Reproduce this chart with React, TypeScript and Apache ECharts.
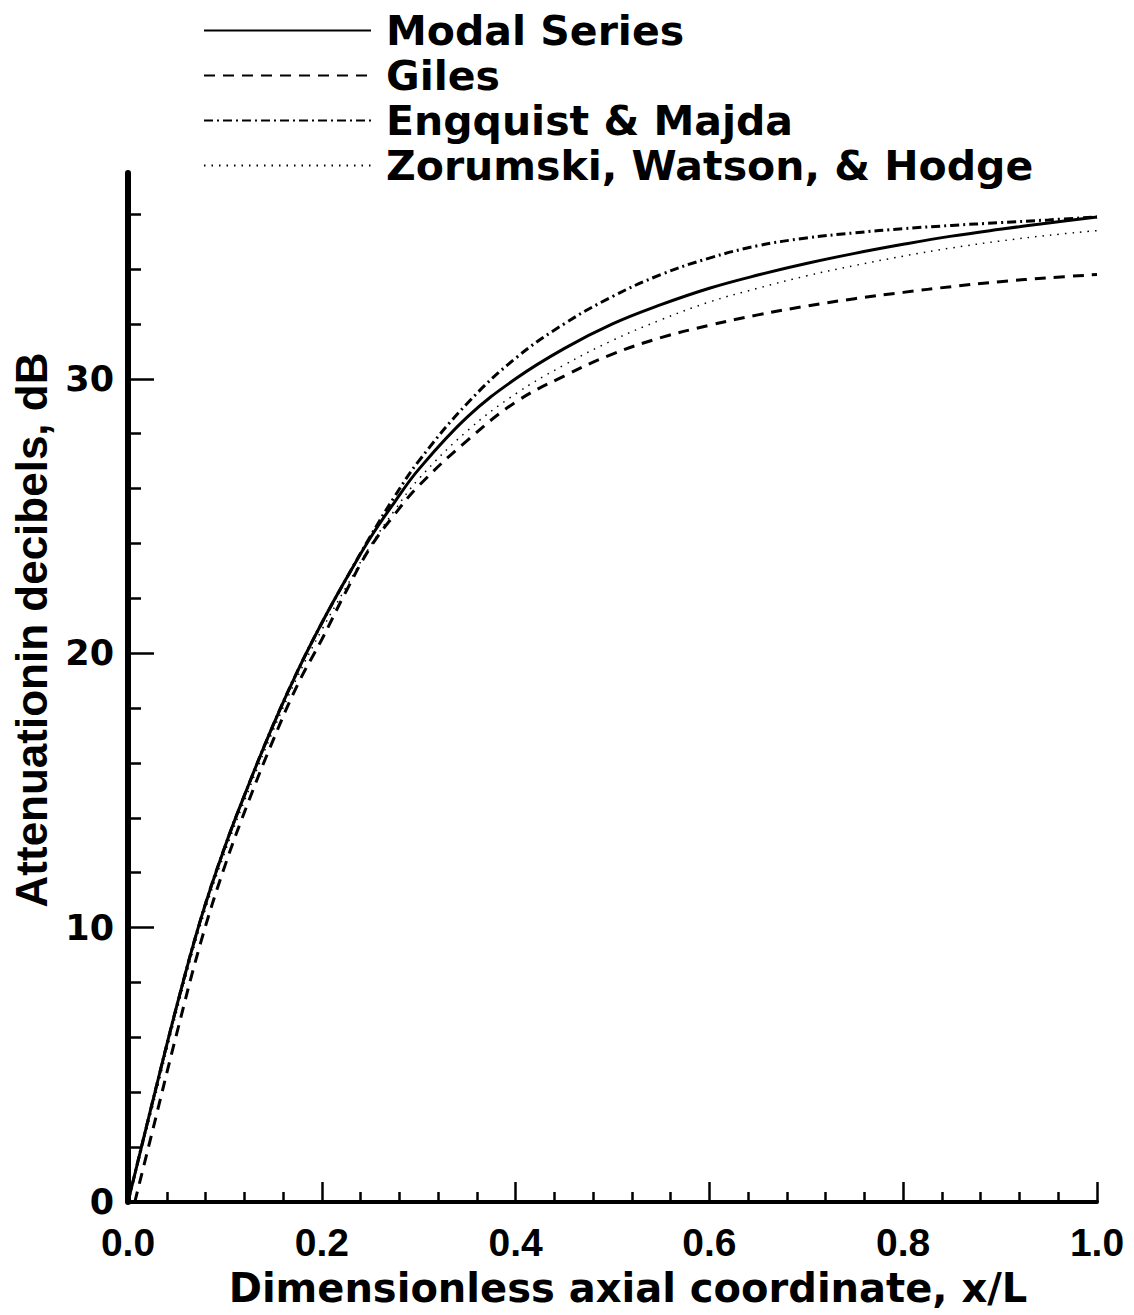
import React, { useEffect, useRef } from "react";
import * as echarts from "echarts";

const xCoords = [0, 0.025, 0.05, 0.075, 0.1, 0.125, 0.15, 0.175, 0.2, 0.225, 0.25, 0.275, 0.3, 0.35, 0.4, 0.45, 0.5, 0.55, 0.6, 0.65, 0.7, 0.75, 0.8, 0.85, 0.9, 0.95, 1.0];
const gilesX = [0.007, 0.025, 0.05, 0.075, 0.1, 0.125, 0.15, 0.175, 0.2, 0.225, 0.25, 0.275, 0.3, 0.35, 0.4, 0.45, 0.5, 0.55, 0.6, 0.65, 0.7, 0.75, 0.8, 0.85, 0.9, 0.95, 1.0];

const modalSeries = [0, 3.6, 7.1, 10.3, 12.95, 15.25, 17.4, 19.35, 21.1, 22.7, 24.2, 25.5, 26.7, 28.6, 30.0, 31.1, 32.0, 32.7, 33.3, 33.78, 34.2, 34.57, 34.9, 35.2, 35.45, 35.68, 35.9];
const giles = [0, 2.55, 6.1, 9.45, 12.25, 14.65, 16.85, 18.85, 20.5, 22.25, 23.85, 25.05, 26.1, 27.75, 29.15, 30.1, 30.9, 31.5, 31.95, 32.33, 32.65, 32.92, 33.15, 33.36, 33.54, 33.68, 33.8];
const engquistMajda = [0, 3.6, 7.1, 10.3, 12.95, 15.25, 17.4, 19.35, 21.1, 22.7, 24.25, 25.7, 27.0, 29.1, 30.75, 32.0, 33.0, 33.8, 34.4, 34.85, 35.13, 35.32, 35.47, 35.59, 35.69, 35.79, 35.9];
const zorumski = [0, 3.4, 6.9, 10.1, 12.75, 15.05, 17.2, 19.15, 20.85, 22.4, 23.9, 25.2, 26.35, 28.1, 29.45, 30.5, 31.4, 32.15, 32.8, 33.3, 33.75, 34.13, 34.47, 34.77, 35.02, 35.23, 35.4];

const seriesNames = ["Modal Series", "Giles", "Engquist & Majda", "Zorumski, Watson, & Hodge"];
const yMajorTicks = [0, 10, 20, 30];
const yMinorTicks = [2, 4, 6, 8, 12, 14, 16, 18, 22, 24, 26, 28, 32, 34, 36];

const xTitle = "Dimensionless axial coordinate, x/L";
const yTitle = "Attenuationin decibels, dB";

const pairs = (xs: number[], ys: number[]) => xs.map((x, i) => [x, ys[i]]);

export default function App() {
  const ref = useRef<HTMLDivElement>(null);
  useEffect(() => {
    document.body.style.margin = "0";
    const chart = echarts.init(ref.current!, null, { renderer: "svg" });
    const lineBase = {
      type: "line" as const,
      smooth: 0.4,
      symbol: "none",
      showSymbol: false,
      silent: true,
      itemStyle: { color: "#000" },
    };
    chart.setOption({
      animation: false,
      backgroundColor: "#ffffff",
      grid: { left: 128, right: 37, top: 173, bottom: 113, containLabel: false },
      legend: {
        orient: "vertical",
        left: 203,
        top: 8,
        padding: 0,
        itemGap: 0,
        itemWidth: 167,
        itemHeight: 14,
        data: seriesNames,
        itemStyle: { opacity: 0 },
        textStyle: {
          color: "#000",
          fontFamily: "DejaVu Sans",
          fontWeight: "bold",
          fontSize: 41,
          lineHeight: 45,
          padding: [0, 0, 0, 10],
        },
      },
      xAxis: {
        type: "value",
        min: 0,
        max: 1,
        interval: 0.2,
        axisLine: { show: true, lineStyle: { color: "#000", width: 4 } },
        axisTick: { show: true, inside: true, length: 20, lineStyle: { color: "#000", width: 2.5 } },
        minorTick: { show: true, splitNumber: 5, length: 10, lineStyle: { color: "#000", width: 2.5 } },
        splitLine: { show: false },
        axisLabel: {
          color: "#000",
          fontFamily: "Liberation Sans",
          fontWeight: "bold",
          fontSize: 39,
          margin: 21,
          formatter: (v: number) => v.toFixed(1),
        },
      },
      yAxis: [
        {
          type: "value",
          min: 0,
          max: 37.5,
          axisLine: { show: true, lineStyle: { color: "#000", width: 6 } },
          axisTick: { show: true, inside: true, length: 26, customValues: yMajorTicks, lineStyle: { color: "#000", width: 2.5 } },
          splitLine: { show: false },
          axisLabel: {
            color: "#000",
            fontFamily: "DejaVu Sans",
            fontWeight: "bold",
            fontSize: 35,
            margin: 14,
            customValues: yMajorTicks,
          },
        },
        {
          type: "value",
          min: 0,
          max: 37.5,
          position: "left",
          axisLine: { show: false },
          axisTick: { show: true, inside: true, length: 13, customValues: yMinorTicks, lineStyle: { color: "#000", width: 2.5 } },
          splitLine: { show: false },
          axisLabel: { show: false },
        },
      ],
      graphic: [
        {
          type: "text",
          x: 628,
          y: 1288,
          style: {
            text: xTitle,
            fill: "#000",
            font: "bold 40px 'DejaVu Sans'",
            align: "center",
            verticalAlign: "middle",
          },
        },
        {
          type: "text",
          x: 31,
          y: 630,
          rotation: Math.PI / 2,
          style: {
            text: yTitle,
            fill: "#000",
            font: "bold 44px 'Liberation Sans'",
            align: "center",
            verticalAlign: "middle",
          },
        },
      ],
      series: [
        {
          ...lineBase,
          name: seriesNames[3],
          data: pairs(xCoords, zorumski),
          lineStyle: { color: "#000", width: 1.5, type: [1.5, 6] },
          z: 2,
        },
        {
          ...lineBase,
          name: seriesNames[1],
          data: pairs(gilesX, giles),
          lineStyle: { color: "#000", width: 3, type: [11, 8] },
          z: 3,
        },
        {
          ...lineBase,
          name: seriesNames[2],
          data: pairs(xCoords, engquistMajda),
          lineStyle: { color: "#000", width: 3, type: [9, 4, 2, 4] },
          z: 4,
        },
        {
          ...lineBase,
          name: seriesNames[0],
          data: pairs(xCoords, modalSeries),
          lineStyle: { color: "#000", width: 3 },
          z: 5,
        },
      ],
    });
    return () => chart.dispose();
  }, []);
  return <div ref={ref} style={{ width: 1134, height: 1315 }} />;
}
